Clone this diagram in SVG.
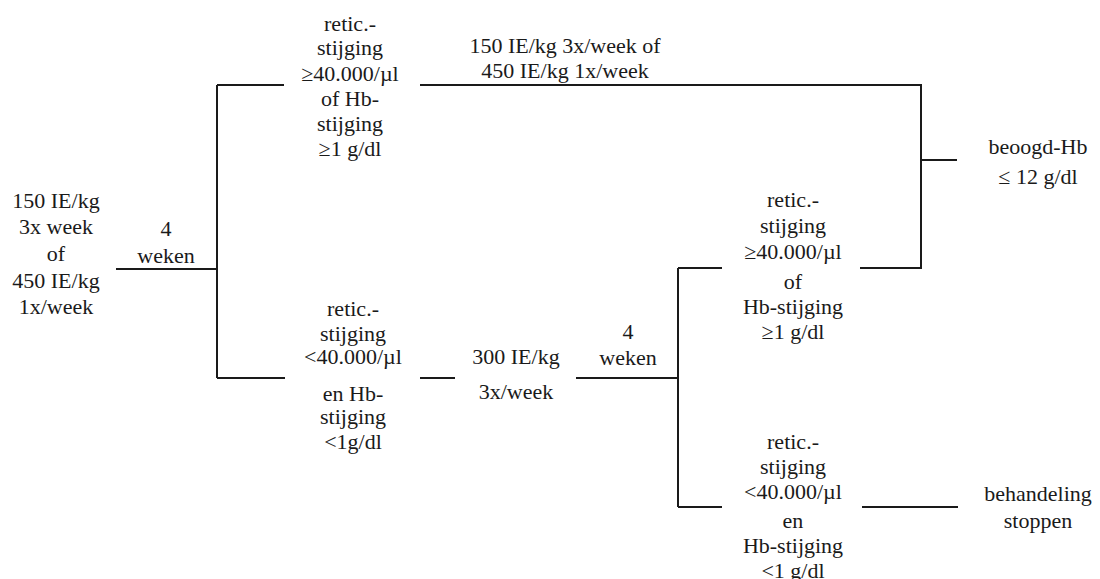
<svg xmlns="http://www.w3.org/2000/svg" width="1100" height="579" viewBox="0 0 1100 579">
<style>
text{font-family:"Liberation Serif","Times New Roman",serif;font-size:22px;fill:#1a1a1a;text-anchor:middle}
.ln{stroke:#1a1a1a;stroke-width:2;fill:none}
</style>
<rect width="1100" height="579" fill="#fff"/>
<g id="connectors">
<path class="ln" d="M116,269H217"/>
<path class="ln" d="M217,85V378"/>
<path class="ln" d="M217,85H284"/>
<path class="ln" d="M217,378H285"/>
<path class="ln" d="M420,85H921V268H860"/>
<path class="ln" d="M921,160H957"/>
<path class="ln" d="M420,378H455"/>
<path class="ln" d="M576,378H678"/>
<path class="ln" d="M678,268V507"/>
<path class="ln" d="M678,268H722"/>
<path class="ln" d="M678,507H722"/>
<path class="ln" d="M862,507H958"/>
</g>
<g id="start">
<text x="56" y="208">150 IE/kg</text>
<text x="56" y="234">3x week</text>
<text x="56" y="261">of</text>
<text x="56" y="288">450 IE/kg</text>
<text x="56" y="314">1x/week</text>
</g>
<g id="weken1">
<text x="166" y="236">4</text>
<text x="166" y="263">weken</text>
</g>
<g id="cond-up">
<text x="350" y="31">retic.-</text>
<text x="350" y="55">stijging</text>
<text x="350" y="81">≥40.000/µl</text>
<text x="350" y="106">of Hb-</text>
<text x="350" y="131">stijging</text>
<text x="350" y="156">≥1 g/dl</text>
</g>
<g id="dose-keep">
<text x="565" y="53">150 IE/kg 3x/week of</text>
<text x="565" y="78">450 IE/kg 1x/week</text>
</g>
<g id="cond-down">
<text x="353" y="316">retic.-</text>
<text x="353" y="341">stijging</text>
<text x="353" y="364">&lt;40.000/µl</text>
<text x="353" y="401">en Hb-</text>
<text x="353" y="424">stijging</text>
<text x="353" y="449">&lt;1g/dl</text>
</g>
<g id="dose-up">
<text x="516" y="364">300 IE/kg</text>
<text x="516" y="399">3x/week</text>
</g>
<g id="weken2">
<text x="628" y="339">4</text>
<text x="628" y="365">weken</text>
</g>
<g id="cond2-up">
<text x="793" y="207">retic.-</text>
<text x="793" y="233">stijging</text>
<text x="793" y="259">≥40.000/µl</text>
<text x="793" y="289">of</text>
<text x="793" y="314">Hb-stijging</text>
<text x="793" y="339">≥1 g/dl</text>
</g>
<g id="cond2-down">
<text x="793" y="449">retic.-</text>
<text x="793" y="474">stijging</text>
<text x="793" y="499">&lt;40.000/µl</text>
<text x="793" y="528">en</text>
<text x="793" y="553">Hb-stijging</text>
<text x="793" y="578">&lt;1 g/dl</text>
</g>
<g id="target">
<text x="1038" y="154">beoogd-Hb</text>
<text x="1038" y="184">≤ 12 g/dl</text>
</g>
<g id="stop">
<text x="1038" y="501">behandeling</text>
<text x="1038" y="528">stoppen</text>
</g>
</svg>
